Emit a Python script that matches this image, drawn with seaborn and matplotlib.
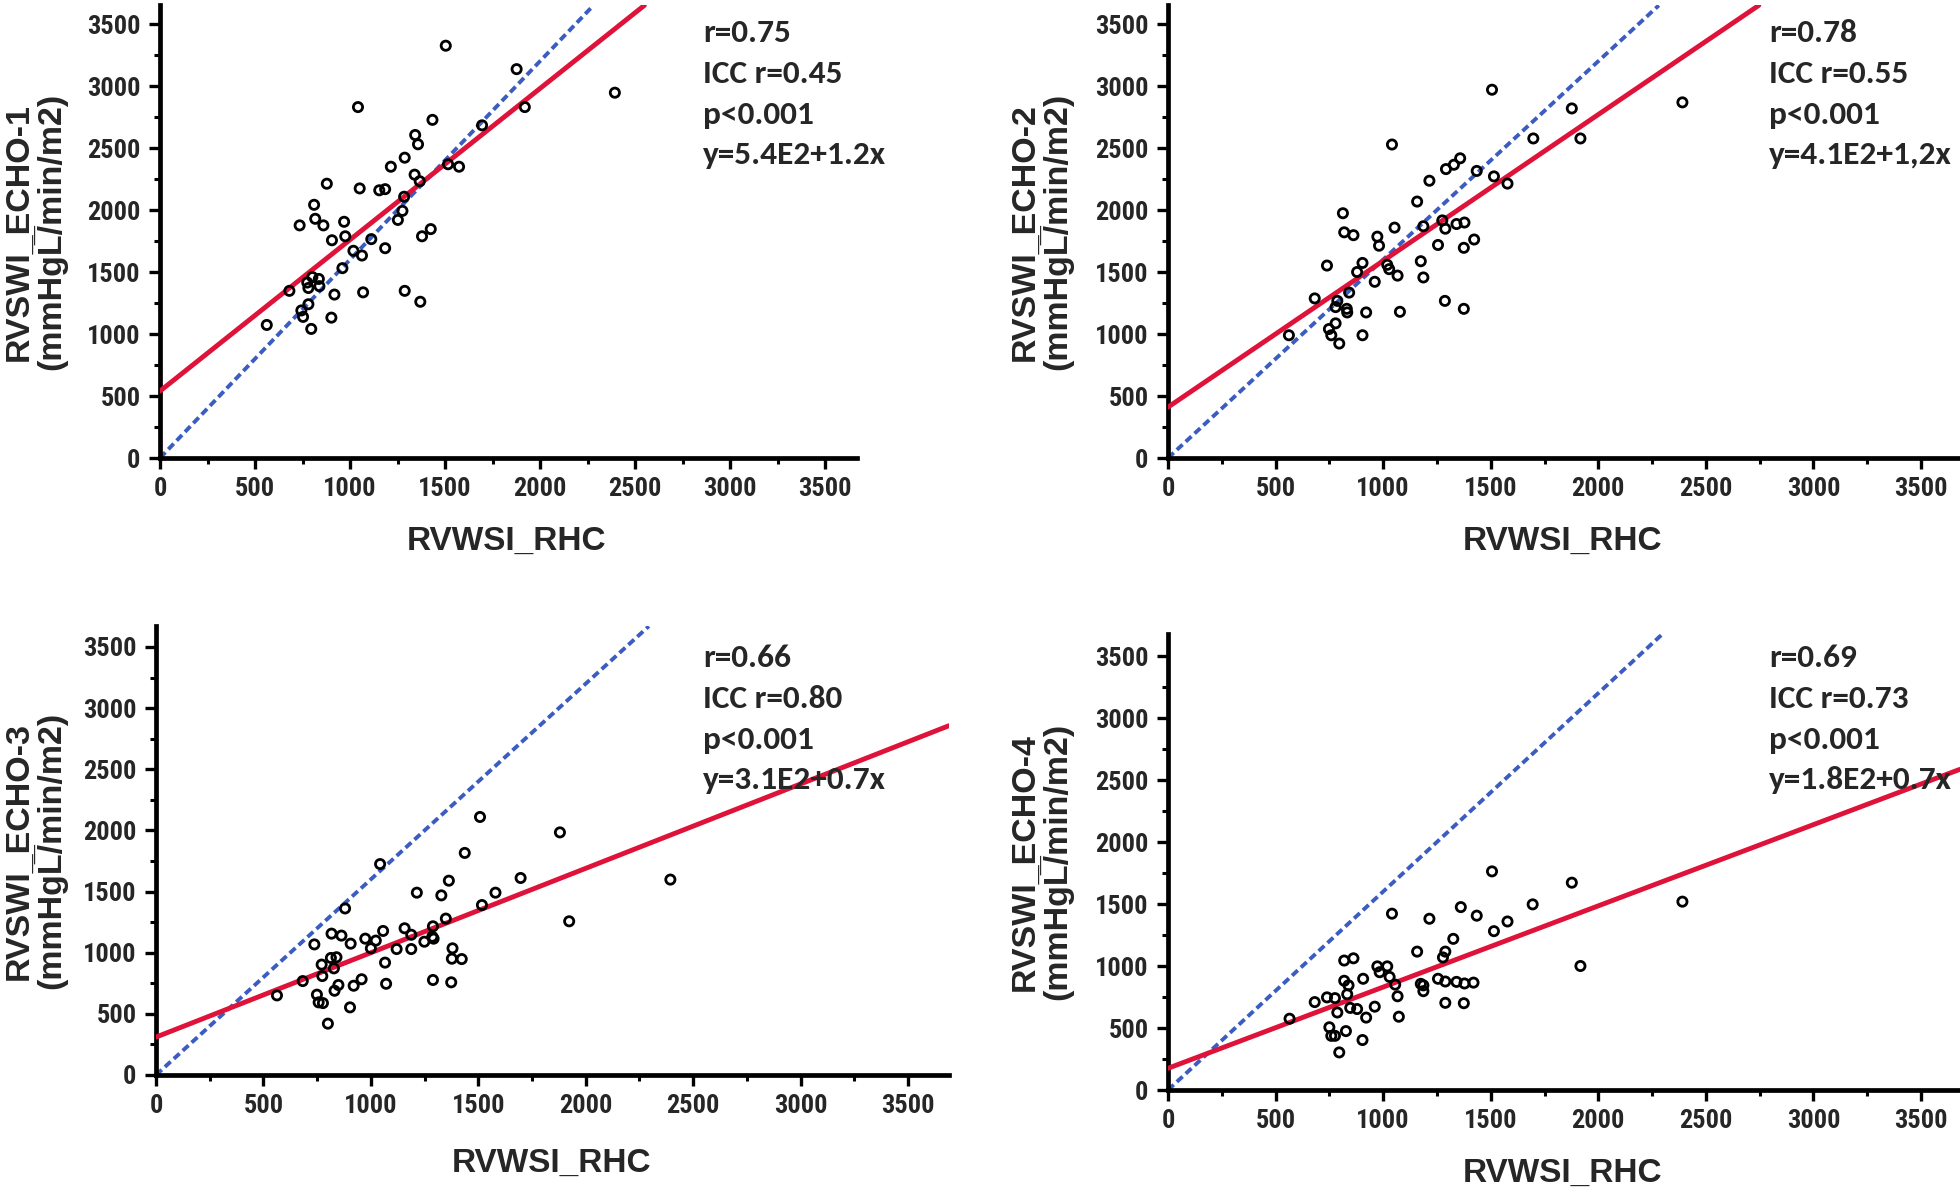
import numpy as np
import pandas as pd
import matplotlib
matplotlib.use("Agg")
import matplotlib.pyplot as plt
from matplotlib import font_manager as fm
import seaborn as sns

# ---------------- data ----------------
rhc_1 = [1504, 1877, 1920, 2394, 1042, 1434, 1695, 1343, 1358, 1288, 1215, 1516, 1574, 1340,
         1367, 878, 1051, 1154, 1185, 1285, 811, 1276, 1252, 817, 735, 860, 969, 975, 905,
         1425, 1379, 1112, 1018, 1185, 1063, 960, 802, 836, 781, 839, 681, 918, 1069, 1288,
         1370, 781, 744, 753, 902, 796, 562, 775]
echo_1 = [3325, 3136, 2830, 2946, 2830, 2727, 2683, 2605, 2530, 2422, 2349, 2369, 2349, 2285,
          2232, 2212, 2174, 2159, 2168, 2107, 2042, 1993, 1920, 1929, 1876, 1876, 1905, 1788,
          1756, 1846, 1788, 1765, 1671, 1692, 1633, 1531, 1459, 1444, 1371, 1386, 1348, 1318,
          1336, 1348, 1260, 1240, 1190, 1138, 1132, 1041, 1073, 1415]

rhc_2 = [1506, 1877, 1917, 2391, 1698, 1041, 1358, 1329, 1292, 1435, 1515, 1578, 1215, 1158,
         813, 1275, 1378, 1341, 1187, 1289, 1053, 819, 862, 973, 981, 1423, 1255, 1375, 1175,
         904, 739, 1019, 1028, 879, 1067, 1187, 961, 842, 682, 787, 1287, 779, 831, 921, 1078,
         1375, 833, 779, 748, 759, 562, 904, 796]
echo_2 = [2970, 2819, 2577, 2868, 2577, 2528, 2417, 2365, 2330, 2315, 2271, 2213, 2236, 2068,
          1974, 1916, 1899, 1887, 1869, 1849, 1858, 1820, 1797, 1785, 1712, 1762, 1718, 1695,
          1587, 1573, 1552, 1558, 1523, 1500, 1471, 1456, 1421, 1334, 1287, 1267, 1267, 1217,
          1203, 1174, 1179, 1203, 1174, 1086, 1040, 990, 990, 990, 923]

rhc_3 = [1508, 1880, 1437, 1043, 1697, 1363, 2394, 1214, 1580, 1328, 1517, 880, 1349, 1923,
         1289, 1157, 1057, 817, 863, 1188, 1286, 974, 1023, 737, 906, 1292, 1249, 1000, 1120,
         1188, 1380, 814, 840, 1377, 1423, 1066, 771, 828, 774, 957, 1289, 1374, 683, 1071,
         849, 920, 831, 563, 749, 757, 777, 903, 800]
echo_3 = [2110, 1984, 1816, 1725, 1611, 1589, 1598, 1491, 1491, 1469, 1390, 1362, 1279, 1257,
          1216, 1200, 1178, 1156, 1140, 1147, 1131, 1115, 1099, 1068, 1074, 1115, 1090, 1036,
          1030, 1030, 1036, 957, 963, 951, 948, 919, 903, 872, 809, 783, 777, 758, 768, 746,
          736, 730, 689, 651, 657, 594, 588, 553, 420]

rhc_4 = [1506, 1877, 2391, 1695, 1361, 1041, 1435, 1215, 1578, 1515, 1326, 1158, 1289, 1278,
         862, 819, 973, 1019, 1917, 984, 1030, 907, 819, 1255, 1289, 1341, 1378, 1420, 1175,
         1056, 1187, 839, 1187, 833, 1067, 739, 776, 682, 1289, 1375, 961, 879, 847, 787, 921,
         1073, 565, 750, 827, 759, 776, 904, 796]
echo_4 = [1763, 1672, 1519, 1497, 1475, 1422, 1406, 1381, 1359, 1281, 1219, 1116, 1116, 1069,
          1062, 1044, 997, 997, 1000, 950, 912, 897, 881, 897, 875, 872, 859, 866, 856, 850,
          844, 844, 797, 772, 756, 747, 741, 709, 703, 700, 672, 653, 662, 625, 584, 591, 575,
          506, 475, 437, 437, 403, 303]

panel_x = [rhc_1, rhc_2, rhc_3, rhc_4]
panel_y = [echo_1, echo_2, echo_3, echo_4]

fit_intercepts = [540, 410, 310, 175]
fit_slopes = [1.22, 1.18, 0.69, 0.655]
ref_slope = 1.6

y_names = ["RVSWI_ECHO-1", "RVSWI_ECHO-2", "RVSWI_ECHO-3", "RVSWI_ECHO-4"]
x_name = "RVWSI_RHC"
stats_text = [
    ["r=0.75", "ICC r=0.45", "p<0.001", "y=5.4E2+1.2x"],
    ["r=0.78", "ICC r=0.55", "p<0.001", "y=4.1E2+1,2x"],
    ["r=0.66", "ICC r=0.80", "p<0.001", "y=3.1E2+0.7x"],
    ["r=0.69", "ICC r=0.73", "p<0.001", "y=1.8E2+0.7x"],
]
tick_values = [0, 500, 1000, 1500, 2000, 2500, 3000, 3500]

# ---------------- style ----------------
sns.set_theme(style="ticks")
names = {f.name for f in fm.fontManager.ttflist}


def pick(*cands):
    for c in cands:
        if c in names:
            return c
    return "DejaVu Sans"


narrow = pick("Liberation Sans Narrow", "Roboto Condensed", "Open Sans Condensed", "Liberation Sans")
stats_font = pick("Carlito", "Liberation Sans Narrow", "Roboto Condensed", "Liberation Sans")
wide = pick("Liberation Sans", "Arial", "DejaVu Sans")
plt.rcParams["font.family"] = [wide, "DejaVu Sans"]

W, H = 1960, 1192
fig = plt.figure(figsize=(W / 100, H / 100), dpi=100)
fig.patch.set_facecolor("white")

# layout in figure pixels: (x of 0, x of 3500, y of 0, y of 3500, xmax, ymax)
layout = [
    (160, 825, 458, 24, 3670, 3650),
    (1168, 1921, 458, 24, 3680, 3650),
    (156, 908, 1075, 647, 3690, 3670),
    (1168, 1921, 1090, 656, 3680, 3680),
]
text_pos = [(703, 33), (1769, 33), (703, 658), (1769, 658)]
xlabel_pos = [(506, 541), (1562, 541), (552, 1163), (1562, 1173)]
ylabel_x = [35, 1041, 35, 1041]

red = "#df1239"
blue = "#3b5cc0"

for i in range(4):
    x0, x35, y0, y35, xmax, ymax = layout[i]
    sx = (x35 - x0) / 3500.0
    sy = (y0 - y35) / 3500.0
    left = x0 / W
    bottom = 1 - y0 / H
    width = min(xmax * sx, W - x0) / W
    xmax_eff = width * W / sx
    height = ymax * sy / H
    ax = fig.add_axes([left, bottom, width, height])
    ax.set_facecolor("white")

    df = pd.DataFrame({"rhc": panel_x[i], "echo": panel_y[i]})

    ax.axline((0, 0), slope=ref_slope, color=blue, lw=2.8, ls=(0, (2.0, 1.1)), zorder=2)
    ax.axline((0, fit_intercepts[i]), slope=fit_slopes[i], color=red, lw=3.5, zorder=3)
    sns.scatterplot(data=df, x="rhc", y="echo", ax=ax, marker="o", s=44,
                    facecolors="none", edgecolor="black", linewidth=2.0, zorder=4)

    ax.set_xlim(0, xmax_eff)
    ax.set_ylim(0, ymax)
    ax.set_xticks(tick_values)
    ax.set_yticks(tick_values)
    ax.set_xticks([v + 250 for v in tick_values if v + 250 < xmax_eff], minor=True)
    ax.set_yticks([v + 250 for v in tick_values if v + 250 < ymax], minor=True)
    ax.set_xticklabels([str(v) for v in tick_values])
    ax.set_yticklabels([str(v) for v in tick_values])
    for lab in ax.get_xticklabels() + ax.get_yticklabels():
        lab.set_fontfamily([narrow, "DejaVu Sans"])
        lab.set_fontweight("bold")
        lab.set_fontsize(19)
    ax.tick_params(which="major", length=8, width=2.4, color="black", pad=6)
    ax.tick_params(which="minor", length=4.5, width=2.2, color="black")
    for side in ("top", "right"):
        ax.spines[side].set_visible(False)
    for side in ("left", "bottom"):
        ax.spines[side].set_linewidth(3.4)
        ax.spines[side].set_color("black")
    ax.set_xlabel("")
    ax.set_ylabel("")
    ax.grid(False)

    # stats text
    tx, ty = text_pos[i]
    for k, line in enumerate(stats_text[i]):
        fig.text(tx / W, 1 - (ty + k * 40.8) / H, line, ha="left", va="center",
                 fontsize=24, fontweight="bold", family=[stats_font, "DejaVu Sans"])

    # x label
    lx, ly = xlabel_pos[i]
    fig.text(lx / W, 1 - ly / H, x_name, ha="center", va="center",
             fontsize=24, fontweight="bold", family=[wide, "DejaVu Sans"])

    # y label (two lines)
    yc = (y0 + (y0 - ymax * sy)) / 2.0
    fig.text(ylabel_x[i] / W, 1 - yc / H, y_names[i] + "\n(mmHgL\u0305/min/m2)",
             ha="center", va="center", rotation=90, linespacing=0.95, multialignment="center",
             fontsize=24.5, fontweight="bold", family=[wide, "DejaVu Sans"])

fig.savefig("out.png", dpi=100, facecolor="white")
